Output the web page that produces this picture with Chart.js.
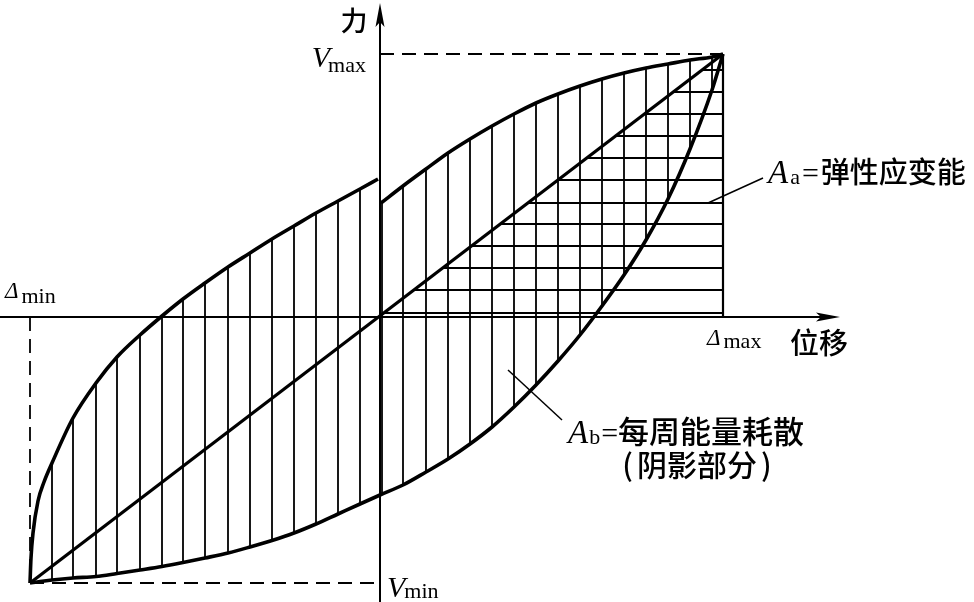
<!DOCTYPE html>
<html>
<head>
<meta charset="utf-8">
<script src="https://cdn.jsdelivr.net/npm/chart.js@4.4.0/dist/chart.umd.min.js"></script>
<style>
  html, body { margin: 0; padding: 0; background: #fff; }
  canvas { display: block; }
</style>
</head>
<body>
<canvas id="chart" width="974" height="602"></canvas>
<script>
// displacement (Δ) and force (V), origin where the two axes cross
const deltaMin = -350, deltaMax = 343
const vMin = -266, vMax = 263

// loading branch, left of the force axis
const upperLeftX = [-350, -349, -347, -342, -336, -328, -307, -284, -263, -240, -218, -197, -175, -152, -130, -108, -86, -64, -42, -20, -2]
const upperLeftY = [-266, -241, -216, -184, -165, -146, -101, -66, -40, -18, 1, 18, 34, 50, 64, 78, 91, 104, 116, 128, 138]
// loading branch, right of the force axis
const upperRightX = [1, 23, 46, 68, 90, 112, 134, 156, 178, 200, 222, 244, 266, 288, 310, 332, 343]
const upperRightY = [114, 131, 148, 164, 178, 191, 203, 214, 223, 231, 238, 244, 249, 253, 257, 260, 263]
// unloading branch
const lowerX = [-350, -340, -328, -307, -284, -263, -240, -218, -197, -175, -152, -130, -108, -86, -64, -42, -20, 0, 23, 46, 68, 90, 112, 134, 156, 178, 200, 222, 244, 266, 288, 310, 332, 343]
const lowerY = [-266, -264.5, -263, -261, -259.5, -256.5, -253, -249.5, -245.5, -241, -236, -230, -223.5, -216, -207, -197, -187, -178, -168, -155, -142, -127, -110, -90, -68, -44, -18, 11, 42, 77, 118, 168, 227, 263]

// vertical hatching of the loop (A_b)
const hatchX = [-328, -307, -284, -263, -240, -218, -197, -175, -152, -130, -108, -86, -64, -42, -20, 2, 23, 46, 68, 90, 112, 134, 156, 178, 200, 222, 244, 266, 288, 310, 332]
const hatchTop = [-146, -101, -66, -40, -18, 1, 18, 34, 50, 64, 78, 91, 104, 116, 128, 115, 131, 148, 164, 178, 191, 203, 214, 223, 231, 238, 244, 249, 253, 257, 260]
const hatchBottom = [-263, -261, -259.5, -256.5, -253, -249.5, -245.5, -241, -236, -230, -223.5, -216, -207, -197, -187, -177, -168, -155, -142, -127, -110, -90, -68, -44, -18, 11, 42, 77, 118, 168, 227]

// horizontal hatching of the triangle (A_a), from the secant line to Δmax
const rowY = [247, 225, 203, 181, 159, 137, 114, 93, 71, 49, 27, 4]
const rowStart = [322, 293, 264, 236, 207, 178, 148, 120, 91, 63, 34, 4]

// leader lines for the two area notes
const leaderA = [[328, 114], [383, 139]]
const leaderB = [[128, -53], [182, -103]]

// axis extents
const xAxisEnd = [-380, 460]
const yAxisEnd = [-285, 314]

const pts = (xs, ys) => xs.map((x, i) => ({ x, y: ys[i] }))

function line(data, width, extra) {
  return Object.assign({
    data, showLine: true, borderColor: '#000', backgroundColor: '#000',
    borderWidth: width, pointRadius: 0, fill: false
  }, extra || {})
}

// several separate strokes in one dataset, broken by null points
function strokes(list) {
  const out = []
  list.forEach(s => { out.push(s[0], s[1], { x: s[1].x, y: null }) })
  return out
}

const vHatch = strokes(hatchX.map((x, i) => [{ x, y: hatchBottom[i] }, { x, y: hatchTop[i] }]))
const hHatch = strokes(rowY.map((y, i) => [{ x: rowStart[i], y }, { x: deltaMax, y }]))

const serif = '"Liberation Serif", "Times New Roman", serif'
const cjk = '"Noto Sans CJK SC", sans-serif'

function rich(ctx, x, y, parts, align) {
  let total = 0
  parts.forEach(p => { ctx.font = p.f; p.w = ctx.measureText(p.t).width; total += p.w + (p.dx || 0) })
  if (align === 'right') x -= total
  if (align === 'center') x -= total / 2
  ctx.textBaseline = 'alphabetic'
  ctx.textAlign = 'left'
  parts.forEach(p => {
    x += p.dx || 0
    ctx.font = p.f
    ctx.fillText(p.t, x, y + (p.dy || 0))
    x += p.w
  })
}

const notes = {
  id: 'notes',
  afterDatasetsDraw(chart) {
    const { ctx, scales: { x: sx, y: sy } } = chart
    const px = v => sx.getPixelForValue(v)
    const py = v => sy.getPixelForValue(v)
    ctx.save()
    ctx.fillStyle = '#000'

    // arrow heads
    const xt = px(xAxisEnd[1]), x0 = py(0)
    ctx.beginPath()
    ctx.moveTo(xt, x0); ctx.lineTo(xt - 24, x0 - 4.5); ctx.lineTo(xt - 19, x0); ctx.lineTo(xt - 24, x0 + 4.5)
    ctx.closePath(); ctx.fill()
    const yt = py(yAxisEnd[1]), y0 = px(0)
    ctx.beginPath()
    ctx.moveTo(y0, yt); ctx.lineTo(y0 - 4.5, yt + 24); ctx.lineTo(y0, yt + 19); ctx.lineTo(y0 + 4.5, yt + 24)
    ctx.closePath(); ctx.fill()

    const it = s => 'italic ' + s + 'px ' + serif
    const rm = s => s + 'px ' + serif
    const ch = s => '500 ' + s + 'px ' + cjk

    rich(ctx, px(-26), py(286), [{ t: '力', f: ch(27) }], 'center')
    rich(ctx, px(410), py(-37), [{ t: '位移', f: ch(29) }])

    rich(ctx, px(-14), py(250), [{ t: 'V', f: it(30) }, { t: 'max', f: rm(22), dy: 5, dx: -2 }], 'right')
    rich(ctx, px(7), py(-280), [{ t: 'V', f: it(30) }, { t: 'min', f: rm(22), dy: 1, dx: -1 }])
    rich(ctx, px(-375), py(19), [{ t: 'Δ', f: it(23) }, { t: 'min', f: rm(22), dy: 5, dx: 3 }])
    rich(ctx, px(327), py(-28), [{ t: 'Δ', f: it(23) }, { t: 'max', f: rm(22), dy: 3, dx: 3 }])

    rich(ctx, px(388), py(134), [
      { t: 'A', f: it(33) }, { t: 'a', f: rm(22), dy: 1, dx: 2 },
      { t: '=', f: rm(30), dx: 2 }, { t: '弹性应变能', f: ch(29), dx: 2 }
    ])
    rich(ctx, px(188), py(-126), [
      { t: 'A', f: it(33) }, { t: 'b', f: rm(22), dy: 1, dx: 1 },
      { t: '=', f: rm(30), dx: 1 }, { t: '每周能量耗散', f: ch(31) }
    ])
    rich(ctx, px(317), py(-159), [
      { t: '(', f: ch(30) }, { t: '阴影部分', f: ch(30), dx: 4 }, { t: ')', f: ch(30), dx: 4 }
    ], 'center')
    ctx.restore()
  }
}

new Chart(document.getElementById('chart').getContext('2d'), {
  type: 'scatter',
  data: {
    datasets: [
      line(vHatch, 1.8),
      line(hHatch, 1.8),
      // axes
      line([{ x: xAxisEnd[0], y: 0 }, { x: xAxisEnd[1] - 5, y: 0 }], 2),
      line([{ x: 0, y: yAxisEnd[0] }, { x: 0, y: yAxisEnd[1] - 5 }], 2),
      // dashed guides
      line([{ x: 0, y: vMax }, { x: deltaMax, y: vMax }], 1.8, { borderDash: [14, 8] }),
      line([{ x: deltaMin, y: vMin }, { x: 0, y: vMin }], 1.8, { borderDash: [14, 8] }),
      line([{ x: deltaMin, y: 0 }, { x: deltaMin, y: vMin }], 1.8, { borderDash: [14, 8] }),
      // Δmax boundary of A_a
      line([{ x: deltaMax, y: 0 }, { x: deltaMax, y: vMax }], 2.2),
      // secant line through the origin
      line([{ x: deltaMin, y: vMin }, { x: deltaMax, y: vMax }], 3.2),
      // hysteresis branches
      line(pts(upperLeftX, upperLeftY), 3.6, { cubicInterpolationMode: 'monotone' }),
      line(pts(upperRightX, upperRightY), 3.6, { cubicInterpolationMode: 'monotone' }),
      line(pts(lowerX, lowerY), 3.6, { cubicInterpolationMode: 'monotone' }),
      // leaders
      line(leaderA.map(p => ({ x: p[0], y: p[1] })), 1.5),
      line(leaderB.map(p => ({ x: p[0], y: p[1] })), 1.5)
    ]
  },
  options: {
    responsive: false,
    animation: false,
    layout: { padding: 0 },
    plugins: { legend: { display: false }, tooltip: { enabled: false } },
    scales: {
      x: { type: 'linear', display: false, min: -380, max: 594 },
      y: { type: 'linear', display: false, min: -285, max: 317 }
    }
  },
  plugins: [notes]
})
</script>
</body>
</html>
